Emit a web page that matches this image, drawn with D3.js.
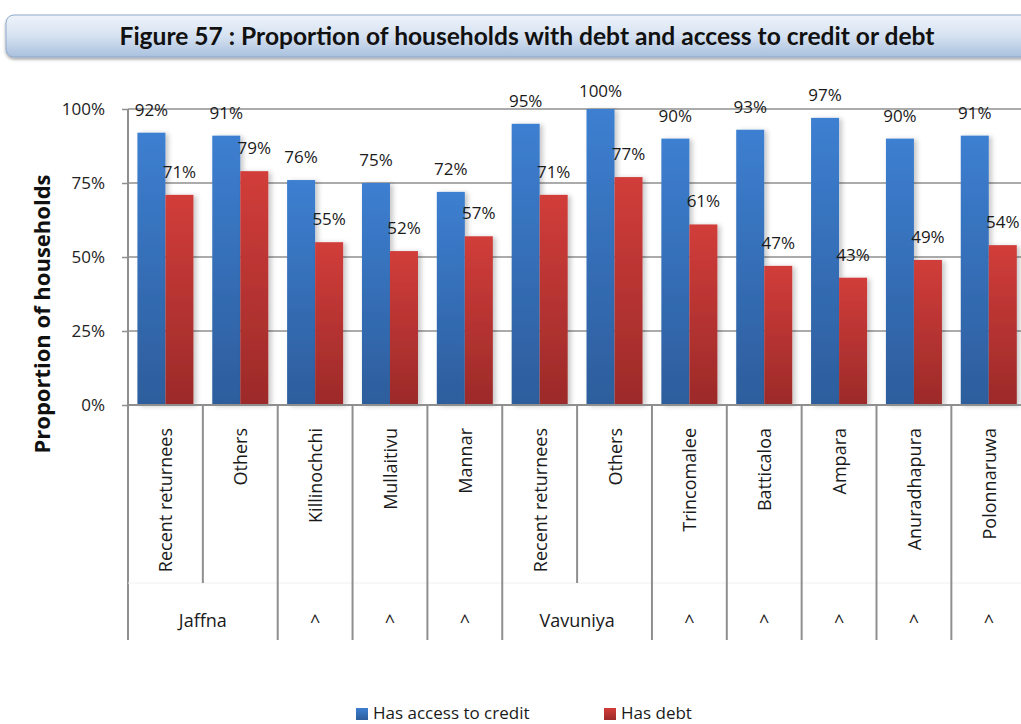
<!DOCTYPE html>
<html><head><meta charset="utf-8">
<script src="https://cdn.jsdelivr.net/npm/d3@7"></script>
<style>
html,body{margin:0;padding:0;background:#fff;}
svg{display:block;font-family:"Open Sans",Lato,sans-serif;}
</style></head>
<body>
<svg id="chart" width="1021" height="724"></svg>
<script>
const categories = ["Recent returnees","Others","Killinochchi","Mullaitivu","Mannar","Recent returnees","Others","Trincomalee","Batticaloa","Ampara","Anuradhapura","Polonnaruwa"];
const groupLabels = ["Jaffna","^","^","^","Vavuniya","^","^","^","^","^"];
const groupSpans = [2,1,1,1,2,1,1,1,1,1];
const seriesNames = ["Has access to credit","Has debt"];
const creditValues = [92,91,76,75,72,95,100,90,93,97,90,91];
const debtValues = [71,79,55,52,57,71,77,61,47,43,49,54];
const yTicks = [0,25,50,75,100];
const titleText = "Figure 57 : Proportion of households with debt and access to credit or debt";
const yTitle = "Proportion of households";

const svg = d3.select("#chart");
const defs = svg.append("defs");

function grad(id, stops){
  const g = defs.append("linearGradient").attr("id", id).attr("x1",0).attr("y1",0).attr("x2",0).attr("y2",1);
  stops.forEach(s=>g.append("stop").attr("offset",s[0]).attr("stop-color",s[1]));
}
grad("gBlue", [[0,"#3d7fd1"],[1,"#2d5d9c"]]);
grad("gRed", [[0,"#d13d3a"],[1,"#9c2a29"]]);
grad("gBanner", [[0,"#eef3fa"],[0.5,"#d6e2f1"],[1,"#a9c0de"]]);
const f = defs.append("filter").attr("id","shadow").attr("x","-20%").attr("y","-5%").attr("width","160%").attr("height","115%");
f.append("feDropShadow").attr("dx",3).attr("dy",1).attr("stdDeviation",2.5).attr("flood-color","#000").attr("flood-opacity",0.22);
const fb = defs.append("filter").attr("id","bshadow").attr("x","-5%").attr("y","-20%").attr("width","110%").attr("height","160%");
fb.append("feDropShadow").attr("dx",0).attr("dy",2).attr("stdDeviation",1.5).attr("flood-color","#000").attr("flood-opacity",0.35);

// Title banner
svg.append("rect").attr("x",6).attr("y",15).attr("width",1040).attr("height",42).attr("rx",8)
  .attr("fill","url(#gBanner)").attr("stroke","#8fa9cc").attr("stroke-width",1).attr("filter","url(#bshadow)");
svg.append("text").attr("x",527).attr("y",45).attr("text-anchor","middle")
  .attr("font-size",24).attr("font-weight","bold").attr("fill","#111").attr("font-family","Lato, sans-serif")
  .attr("textLength",815).attr("lengthAdjust","spacingAndGlyphs")
  .text(titleText);

// Scales
const x0 = 128, x1 = 128 + 12*74.85;
const x = d3.scaleBand().domain(d3.range(categories.length)).range([x0,x1]).padding(0);
const xs = d3.scaleBand().domain(seriesNames).range([0,x.bandwidth()]).paddingInner(0).paddingOuter(0.336);
const y = d3.scaleLinear().domain([0,100]).range([405,109]);

// Gridlines
svg.append("g").selectAll("line").data(yTicks.filter(d=>d>0)).join("line")
  .attr("x1",x0).attr("x2",1021).attr("y1",d=>y(d)).attr("y2",d=>y(d))
  .attr("stroke","#8f8f8f").attr("stroke-width",1.5);

// Y axis
const yAxis = d3.axisLeft(y).tickValues(yTicks).tickFormat(d=>d+"%").tickSize(6).tickPadding(17);
const ga = svg.append("g").attr("transform",`translate(${x0},0)`).call(yAxis);
ga.select(".domain").remove();
ga.selectAll(".tick line").attr("stroke","#8f8f8f").attr("stroke-width",1.5);
ga.selectAll(".tick text").attr("font-size",17).attr("fill","#222").attr("font-family","'Open Sans', sans-serif");

// Bars
const rows = categories.map((c,i)=>({i, vals:[creditValues[i], debtValues[i]]}));
const fills = ["url(#gBlue)","url(#gRed)"];
const gb = svg.append("g");
rows.forEach(r=>{
  r.vals.forEach((v,k)=>{
    gb.append("rect")
      .attr("x", x(r.i)+xs(seriesNames[k]))
      .attr("y", y(v)).attr("width", xs.bandwidth()).attr("height", y(0)-y(v))
      .attr("fill", fills[k]).attr("filter","url(#shadow)");
  });
});
// Labels
rows.forEach(r=>{
  r.vals.forEach((v,k)=>{
    gb.append("text")
      .attr("x", x(r.i)+xs(seriesNames[k])+xs.bandwidth()/2)
      .attr("y", Math.max(y(v)-17, 97)).attr("text-anchor","middle")
      .attr("font-size",17).attr("fill","#1a1a1a").text(v+"%");
  });
});

// X axis line
svg.append("line").attr("x1",x0).attr("x2",1021).attr("y1",405).attr("y2",405).attr("stroke","#8f8f8f").attr("stroke-width",2);
// Y axis line
svg.append("line").attr("x1",x0).attr("x2",x0).attr("y1",109).attr("y2",640).attr("stroke","#8f8f8f").attr("stroke-width",2);

// faint separator between label rows
svg.append("line").attr("x1",x0).attr("x2",1021).attr("y1",583).attr("y2",583).attr("stroke","#f0f0f0").attr("stroke-width",1);

// Category separators
let cum = 0; const groupBounds = [0];
groupSpans.forEach(s=>{cum+=s; groupBounds.push(cum);});
for(let i=1;i<categories.length;i++){
  const isGroup = groupBounds.includes(i);
  svg.append("line").attr("x1",x(i)).attr("x2",x(i)).attr("y1",405).attr("y2",isGroup?640:583)
    .attr("stroke","#8f8f8f").attr("stroke-width",2);
}

// Category labels (rotated)
svg.append("g").selectAll("text").data(categories).join("text")
  .attr("transform",(d,i)=>`translate(${x(i)+x.bandwidth()/2+7},428) rotate(-90)`)
  .attr("text-anchor","end").attr("font-size",18).attr("fill","#1a1a1a").text(d=>d);

// Group labels
groupLabels.forEach((g,j)=>{
  const a = x(groupBounds[j]), b = x(groupBounds[j+1]-1)+x.bandwidth();
  svg.append("text").attr("x",(a+b)/2).attr("y",g==="^"?628:627).attr("text-anchor","middle")
    .attr("font-size",18).attr("fill","#1a1a1a").text(g);
});

// Y title
svg.append("text").attr("transform","translate(50,314) rotate(-90)").attr("text-anchor","middle")
  .attr("font-size",22).attr("font-weight","bold").attr("fill","#111").text(yTitle);

// Legend
const legX = [356,604];
seriesNames.forEach((s,k)=>{
  svg.append("rect").attr("x",legX[k]).attr("y",708).attr("width",12).attr("height",12).attr("fill",fills[k]);
  svg.append("text").attr("x",legX[k]+17).attr("y",719).attr("font-size",17).attr("fill","#1a1a1a").text(s);
});
</script>
</body></html>
